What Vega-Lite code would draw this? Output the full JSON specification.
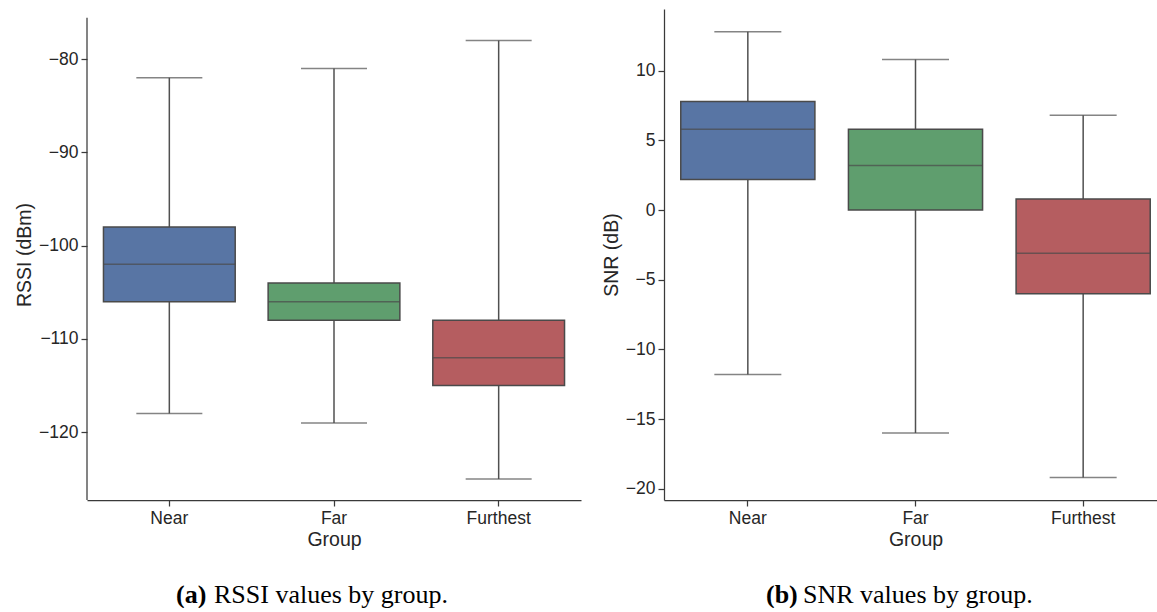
{
  "$schema": "https://vega.github.io/schema/vega-lite/v6.json",
  "background": "white",
  "padding": {"left": 14, "top": 9, "right": 0, "bottom": 0},
  "config": {
    "view": {"stroke": null},
    "font": "Liberation Sans",
    "axis": {
      "labelFont": "Liberation Sans",
      "titleFont": "Liberation Sans",
      "labelFontSize": 17.5,
      "titleFontSize": 19.5,
      "titleFontWeight": "normal",
      "labelColor": "#262626",
      "titleColor": "#262626",
      "domainColor": "#3a3a3a",
      "tickColor": "#3a3a3a",
      "domainWidth": 1.25,
      "tickWidth": 1.25,
      "tickSize": 6,
      "labelPadding": 3,
      "grid": false
    },
    "concat": {"spacing": 20}
  },
  "hconcat": [
    {
      "width": 494,
      "height": 491,
      "data": {
        "values": [
          {"group": "Near", "min": -118, "q1": -106, "median": -102, "q3": -98, "max": -82},
          {"group": "Far", "min": -119, "q1": -108, "median": -106, "q3": -104, "max": -81},
          {"group": "Furthest", "min": -125, "q1": -115, "median": -112, "q3": -108, "max": -78}
        ]
      },
      "encoding": {
        "x": {
          "field": "group",
          "type": "nominal",
          "sort": ["Near", "Far", "Furthest"],
          "scale": {"type": "band", "paddingInner": 0, "paddingOuter": 0},
          "axis": {"title": "Group", "labelAngle": 0, "titlePadding": 3.5}
        }
      },
      "layer": [
        {
          "mark": {"type": "rule", "color": "#505050", "strokeWidth": 1.5},
          "encoding": {
            "y": {
              "field": "min",
              "type": "quantitative",
              "scale": {"domain": [-127.26, -74.63], "nice": false, "zero": false},
              "axis": {"title": "RSSI (dBm)", "values": [-120, -110, -100, -90, -80], "titlePadding": 4, "domain": false}
            },
            "y2": {"field": "max"}
          }
        },
        {
          "data": {"values": [{"bottom": -127.26, "top": -75.57}]},
          "mark": {"type": "rule", "color": "#3a3a3a", "strokeWidth": 1.25},
          "encoding": {
            "x": {"datum": "Near", "bandPosition": 0},
            "y": {"field": "bottom", "type": "quantitative"},
            "y2": {"field": "top"}
          }
        },
        {
          "mark": {"type": "tick", "size": 66, "thickness": 1.5, "color": "#505050"},
          "encoding": {"y": {"field": "min", "type": "quantitative"}}
        },
        {
          "mark": {"type": "tick", "size": 66, "thickness": 1.5, "color": "#505050"},
          "encoding": {"y": {"field": "max", "type": "quantitative"}}
        },
        {
          "mark": {"type": "bar", "width": {"band": 0.8}, "stroke": "#4a4a4a", "strokeWidth": 1.5, "opacity": 1},
          "encoding": {
            "y": {"field": "q1", "type": "quantitative"},
            "y2": {"field": "q3"},
            "color": {
              "field": "group",
              "type": "nominal",
              "scale": {"domain": ["Near", "Far", "Furthest"], "range": ["#5875a4", "#5f9e6e", "#b55d60"]},
              "legend": null
            }
          }
        },
        {
          "mark": {"type": "tick", "size": 132, "thickness": 1.5, "color": "#4a4a4a"},
          "encoding": {"y": {"field": "median", "type": "quantitative"}}
        },
        {
          "data": {"values": [{"caption": "(a)"}]},
          "mark": {"type": "text", "font": "Liberation Serif", "fontSize": 26, "fontWeight": "bold", "align": "left", "baseline": "alphabetic", "dx": -158, "color": "#000000"},
          "encoding": {"x": {"datum": "Far"}, "y": {"datum": -138.3}, "text": {"field": "caption"}}
        },
        {
          "data": {"values": [{"caption": "RSSI values by group."}]},
          "mark": {"type": "text", "font": "Liberation Serif", "fontSize": 26, "align": "left", "baseline": "alphabetic", "dx": -120, "color": "#000000"},
          "encoding": {"x": {"datum": "Far"}, "y": {"datum": -138.3}, "text": {"field": "caption"}}
        }
      ]
    },
    {
      "width": 503,
      "height": 491,
      "data": {
        "values": [
          {"group": "Near", "min": -11.8, "q1": 2.2, "median": 5.8, "q3": 7.8, "max": 12.8},
          {"group": "Far", "min": -16, "q1": 0, "median": 3.2, "q3": 5.8, "max": 10.8},
          {"group": "Furthest", "min": -19.2, "q1": -6, "median": -3.1, "q3": 0.8, "max": 6.8}
        ]
      },
      "encoding": {
        "x": {
          "field": "group",
          "type": "nominal",
          "sort": ["Near", "Far", "Furthest"],
          "scale": {"type": "band", "paddingInner": 0, "paddingOuter": 0},
          "axis": {"title": "Group", "labelAngle": 0, "titlePadding": 3.5}
        }
      },
      "layer": [
        {
          "mark": {"type": "rule", "color": "#505050", "strokeWidth": 1.5},
          "encoding": {
            "y": {
              "field": "min",
              "type": "quantitative",
              "scale": {"domain": [-20.81, 14.43], "nice": false, "zero": false},
              "axis": {"title": "SNR (dB)", "values": [-20, -15, -10, -5, 0, 5, 10], "titlePadding": 4}
            },
            "y2": {"field": "max"}
          }
        },
        {
          "mark": {"type": "tick", "size": 67, "thickness": 1.5, "color": "#505050"},
          "encoding": {"y": {"field": "min", "type": "quantitative"}}
        },
        {
          "mark": {"type": "tick", "size": 67, "thickness": 1.5, "color": "#505050"},
          "encoding": {"y": {"field": "max", "type": "quantitative"}}
        },
        {
          "mark": {"type": "bar", "width": {"band": 0.8}, "stroke": "#4a4a4a", "strokeWidth": 1.5, "opacity": 1},
          "encoding": {
            "y": {"field": "q1", "type": "quantitative"},
            "y2": {"field": "q3"},
            "color": {
              "field": "group",
              "type": "nominal",
              "scale": {"domain": ["Near", "Far", "Furthest"], "range": ["#5875a4", "#5f9e6e", "#b55d60"]},
              "legend": null
            }
          }
        },
        {
          "mark": {"type": "tick", "size": 134, "thickness": 1.5, "color": "#4a4a4a"},
          "encoding": {"y": {"field": "median", "type": "quantitative"}}
        },
        {
          "data": {"values": [{"caption": "(b)"}]},
          "mark": {"type": "text", "font": "Liberation Serif", "fontSize": 26, "fontWeight": "bold", "align": "left", "baseline": "alphabetic", "dx": -149.5, "color": "#000000"},
          "encoding": {"x": {"datum": "Far"}, "y": {"datum": -28.2}, "text": {"field": "caption"}}
        },
        {
          "data": {"values": [{"caption": "SNR values by group."}]},
          "mark": {"type": "text", "font": "Liberation Serif", "fontSize": 26, "align": "left", "baseline": "alphabetic", "dx": -112.5, "color": "#000000"},
          "encoding": {"x": {"datum": "Far"}, "y": {"datum": -28.2}, "text": {"field": "caption"}}
        }
      ]
    }
  ]
}
